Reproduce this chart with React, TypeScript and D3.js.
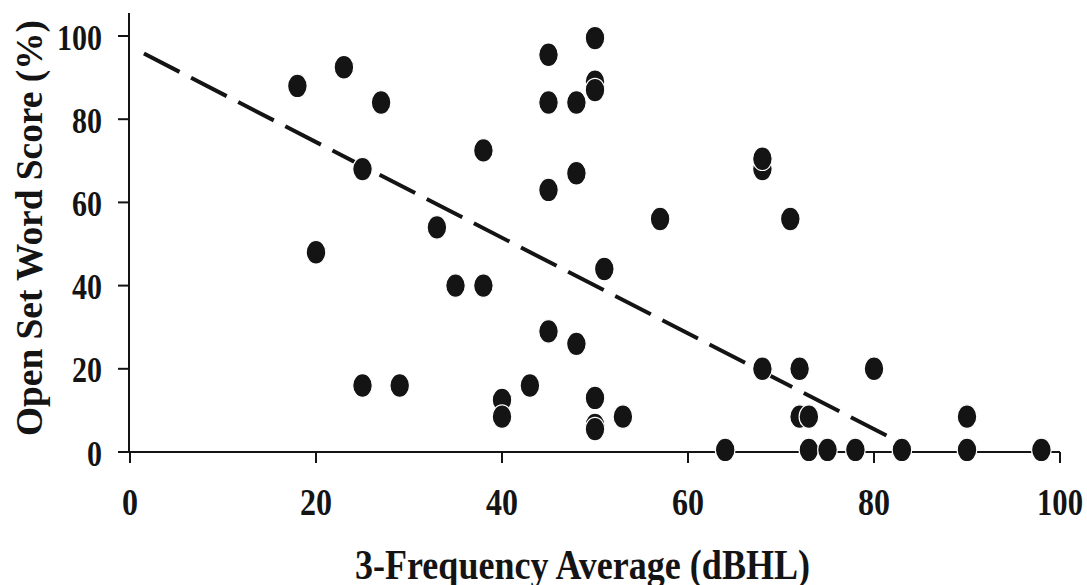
import React from "react";
import * as d3 from "d3";

const xTicks = [0, 20, 40, 60, 80, 100];
const yTicks = [0, 20, 40, 60, 80, 100];

// 3-frequency average (dBHL)
const pointX = [
  18, 23, 27, 25, 20,
  50, 45, 50, 50, 45, 48,
  38, 48, 45, 33, 57,
  68, 68, 71, 51, 35, 38,
  25, 29, 45, 48, 40, 40, 43, 50, 50, 50, 53,
  68, 72, 80, 72, 73, 90,
  64, 73, 75, 78, 83, 90, 98,
];
// open set word score (%)
const pointY = [
  88, 92.5, 84, 68, 48,
  99.5, 95.5, 89, 87, 84, 84,
  72.5, 67, 63, 54, 56,
  68, 70.5, 56, 44, 40, 40,
  16, 16, 29, 26, 12.5, 8.5, 16, 13, 6.5, 5.5, 8.5,
  20, 20, 20, 8.5, 8.5, 8.5,
  0.5, 0.5, 0.5, 0.5, 0.5, 0.5, 0.5,
];

// regression line
const fitIntercept = 97.5;
const fitSlope = -1.15;
const fitXRange = [1.5, 82.5];

const xTitle = "3-Frequency Average (dBHL)";
const yTitle = "Open Set Word Score (%)";

export default function App() {
  const W = 1087;
  const H = 585;
  const x = d3.scaleLinear().domain([0, 100]).range([130, 1060]);
  const y = d3.scaleLinear().domain([0, 100]).range([452, 36]);
  const ink = "#141414";
  const font = "'Liberation Serif', 'Times New Roman', serif";

  const line = d3
    .line<number>()
    .x((d) => x(d))
    .y((d) => y(fitIntercept + fitSlope * d));

  const pts = pointX.map((v, i) => ({ x: v, y: pointY[i] }));

  return (
    <svg
      width={W}
      height={H}
      style={{ position: "absolute", left: 0, top: 0, background: "#fff" }}
    >
      <rect x={0} y={0} width={W} height={H} fill="#fff" />
      {/* y axis */}
      <line x1={x(0) - 1} x2={x(0) - 1} y1={13} y2={y(0)} stroke={ink} strokeWidth={2} />
      {yTicks.map((t) => (
        <g key={"y" + t}>
          <line x1={118} x2={x(0) - 1} y1={y(t)} y2={y(t)} stroke={ink} strokeWidth={2} />
          <text
            x={102}
            y={y(t) + 13.5}
            textAnchor="end"
            fontFamily={font}
            fontWeight="bold"
            fontSize={36}
            fill={ink}
            textLength={String(t).length === 3 ? 45 : String(t).length === 2 ? 30 : 15}
            lengthAdjust="spacingAndGlyphs"
          >
            {t}
          </text>
        </g>
      ))}
      {/* x axis */}
      <line x1={x(0) - 1} x2={x(100)} y1={y(0)} y2={y(0)} stroke={ink} strokeWidth={2} />
      {xTicks.map((t) => (
        <g key={"x" + t}>
          <line x1={x(t)} x2={x(t)} y1={y(0)} y2={y(0) + 11} stroke={ink} strokeWidth={2} />
          <text
            x={x(t)}
            y={515}
            textAnchor="middle"
            fontFamily={font}
            fontWeight="bold"
            fontSize={37}
            fill={ink}
            textLength={String(t).length === 3 ? 46 : String(t).length === 2 ? 32 : 16}
            lengthAdjust="spacingAndGlyphs"
          >
            {t}
          </text>
        </g>
      ))}
      {/* regression line */}
      <path
        d={line(fitXRange) || ""}
        fill="none"
        stroke={ink}
        strokeWidth={4}
        strokeDasharray="40 13"
      />
      {/* points */}
      {pts.map((p, i) => (
        <ellipse
          key={i}
          cx={x(p.x)}
          cy={y(p.y)}
          rx={9.8}
          ry={11.8}
          fill={ink}
          stroke="#fff"
          strokeWidth={1.2}
        />
      ))}
      {/* titles */}
      <text
        x={355}
        y={579}
        fontFamily={font}
        fontWeight="bold"
        fontSize={42}
        fill={ink}
        textLength={455}
        lengthAdjust="spacingAndGlyphs"
      >
        {xTitle}
      </text>
      <text
        transform={`translate(42, 228) rotate(-90)`}
        textAnchor="middle"
        fontFamily={font}
        fontWeight="bold"
        fontSize={38}
        fill={ink}
        textLength={416}
        lengthAdjust="spacingAndGlyphs"
      >
        {yTitle}
      </text>
    </svg>
  );
}
